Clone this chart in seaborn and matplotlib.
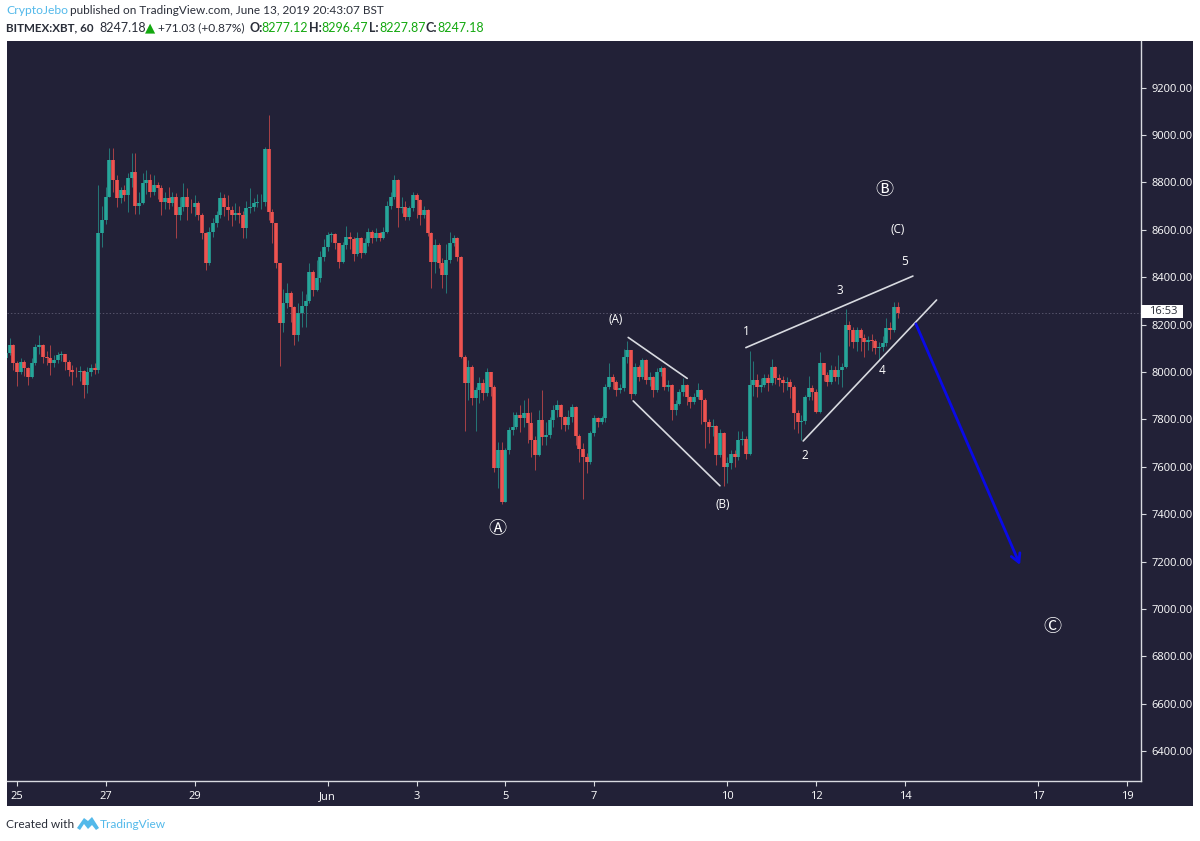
import pandas as pd
import numpy as np
import matplotlib
matplotlib.use("Agg")
import matplotlib.pyplot as plt
from matplotlib.patches import Rectangle, Polygon
import seaborn as sns

sns.set_theme(style="dark")
plt.rcParams['font.family'] = ['Open Sans', 'DejaVu Sans']

BG = '#222137'
UP = '#26a69a'
DOWN = '#ef5350'
INK = '#d8dae0'
W, H = 1200, 841

# 2 hour bars, hours counted from May 25 00:00, first bar at -6
first_hour = -6
first_open = 8060
closes = [
    8079, 8114, 8036, 8001, 8043, 8015, 7980, 8036, 8107, 8114, 8065, 8058,
    8036, 8050, 8072, 8075, 8043, 8008, 8001, 7998, 8003, 7945, 8001, 8015,
    8008, 8585, 8641, 8740, 8895, 8810, 8733, 8768, 8745, 8817, 8845, 8700,
    8712, 8796, 8810, 8761, 8789, 8775, 8719, 8733, 8712, 8740, 8663, 8698,
    8740, 8698, 8695, 8712, 8663, 8585, 8458, 8590, 8627, 8663, 8733, 8698,
    8684, 8663, 8670, 8663, 8606, 8691, 8698, 8712, 8716, 8719, 8940, 8677,
    8627, 8458, 8205, 8290, 8332, 8276, 8156, 8248, 8280, 8300, 8423, 8346,
    8395, 8487, 8529, 8578, 8582, 8545, 8466, 8536, 8571, 8560, 8500, 8564,
    8501, 8543, 8592, 8564, 8585, 8564, 8592, 8700, 8740, 8810, 8691, 8698,
    8656, 8691, 8747, 8726, 8663, 8684, 8585, 8466, 8536, 8458, 8409, 8473,
    8543, 8564, 8487, 8065, 7952, 8022, 7889, 7924, 7952, 7910, 8001, 7938,
    7593, 7671, 7452, 7671, 7755, 7769, 7818, 7804, 7825, 7783, 7712, 7649,
    7797, 7727, 7734, 7797, 7839, 7860, 7811, 7776, 7811, 7853, 7730, 7677,
    7642, 7620, 7741, 7804, 7790, 7804, 7938, 7980, 7959, 7924, 7931, 8064,
    8092, 7909, 8022, 7980, 8050, 7966, 7980, 7924, 8001, 8015, 7938, 7945,
    7839, 7867, 7916, 7945, 7895, 7874, 7895, 7924, 7881, 7790, 7769, 7772,
    7649, 7741, 7600, 7614, 7656, 7642, 7712, 7719, 7656, 7945, 7966, 7938,
    7945, 7973, 7952, 8022, 7973, 7966, 7952, 7959, 7938, 7825, 7790, 7794,
    7895, 7931, 7917, 7832, 8036, 7987, 7959, 8008, 7980, 8008, 8022, 8198,
    8177, 8128, 8177, 8142, 8128, 8135, 8131, 8100, 8104, 8121, 8184, 8177, 8275, 8247,
]
highs = [
    8100, 8142, 8120, 8045, 8060, 8050, 8020, 8060, 8120, 8156, 8120, 8090,
    8114, 8070, 8085, 8090, 8075, 8050, 8030, 8020, 8025, 8010, 8020, 8035,
    8040, 8789, 8700, 8780, 8944, 8944, 8830, 8780, 8790, 8840, 8923, 8923,
    8760, 8838, 8853, 8835, 8830, 8800, 8790, 8760, 8780, 8760, 8755, 8740,
    8799, 8775, 8730, 8747, 8720, 8670, 8590, 8610, 8650, 8680, 8761, 8750,
    8745, 8700, 8715, 8700, 8680, 8720, 8775, 8735, 8750, 8750, 8950, 9085,
    8690, 8627, 8458, 8350, 8374, 8340, 8280, 8290, 8340, 8330, 8459, 8430,
    8473, 8510, 8560, 8590, 8590, 8585, 8545, 8550, 8617, 8590, 8570, 8590,
    8570, 8565, 8606, 8600, 8606, 8590, 8610, 8720, 8760, 8831, 8815, 8740,
    8720, 8700, 8761, 8755, 8730, 8700, 8690, 8590, 8560, 8545, 8480, 8540,
    8592, 8580, 8570, 8490, 8070, 8050, 8030, 7935, 7980, 7970, 8015, 8000,
    7945, 7706, 7706, 7680, 7770, 7830, 7830, 7860, 7880, 7891, 7830, 7730,
    7840, 7926, 7790, 7810, 7860, 7880, 7865, 7815, 7840, 7865, 7855, 7740,
    7700, 7660, 7750, 7820, 7810, 7815, 7950, 8036, 7990, 7965, 7950, 8099,
    8132, 8095, 8040, 8030, 8060, 8055, 8000, 7985, 8015, 8025, 8020, 7965,
    7950, 7880, 7930, 7973, 7950, 7900, 7910, 7952, 7930, 7890, 7800, 7800,
    7775, 7761, 7745, 7640, 7670, 7670, 7750, 7750, 7730, 8090, 8045, 7990,
    7975, 7990, 7990, 8057, 8025, 7990, 7985, 7980, 7970, 7945, 7840, 7820,
    7905, 7985, 7945, 7930, 8085, 8040, 8000, 8030, 8025, 8071, 8040, 8268,
    8215, 8190, 8190, 8185, 8160, 8150, 8160, 8140, 8125, 8150, 8226, 8210, 8296, 8296,
]
lows = [
    8040, 8070, 8010, 7941, 7990, 7985, 7945, 7975, 8030, 8075, 8040, 8030,
    7987, 8020, 8040, 8045, 8010, 7985, 7945, 7980, 7960, 7892, 7910, 7985,
    7990, 7995, 8529, 8625, 8740, 8760, 8698, 8715, 8720, 8677, 8780, 8665,
    8665, 8710, 8750, 8740, 8745, 8730, 8663, 8690, 8690, 8700, 8567, 8641,
    8680, 8641, 8670, 8660, 8640, 8560, 8430, 8451, 8570, 8610, 8650, 8660,
    8640, 8616, 8640, 8630, 8564, 8564, 8670, 8680, 8695, 8690, 8700, 8640,
    8546, 8440, 8027, 8170, 8270, 8210, 8114, 8130, 8191, 8191, 8290, 8320,
    8340, 8380, 8470, 8510, 8550, 8520, 8440, 8460, 8520, 8520, 8470, 8490,
    8480, 8500, 8530, 8545, 8555, 8555, 8560, 8585, 8690, 8730, 8613, 8670,
    8640, 8640, 8680, 8650, 8620, 8650, 8575, 8353, 8416, 8440, 8353, 8332,
    8460, 8530, 8470, 8060, 7752, 7880, 7860, 7752, 7870, 7880, 7900, 7900,
    7580, 7509, 7445, 7450, 7655, 7735, 7760, 7745, 7770, 7700, 7640, 7586,
    7645, 7690, 7690, 7720, 7770, 7810, 7760, 7750, 7760, 7790, 7690, 7620,
    7466, 7572, 7610, 7730, 7770, 7780, 7790, 7930, 7930, 7900, 7910, 7920,
    8040, 7888, 7905, 7960, 7970, 7950, 7940, 7895, 7915, 7985, 7925, 7920,
    7797, 7820, 7860, 7900, 7860, 7850, 7865, 7885, 7780, 7680, 7700, 7730,
    7607, 7640, 7518, 7530, 7590, 7600, 7630, 7690, 7635, 7650, 7900, 7895,
    7915, 7935, 7920, 7945, 7950, 7940, 7915, 7925, 7890, 7760, 7741, 7715,
    7780, 7880, 7880, 7825, 7825, 7960, 7940, 7950, 7960, 7950, 7938, 8015,
    8110, 8100, 8090, 8090, 8064, 8095, 8090, 8075, 8057, 8090, 8110, 8140, 8170, 8227,
]
last_price = 8247.18

tick_days = [0, 2, 4, 7, 9, 11, 13, 16, 18, 20, 23, 25]
tick_names = ['25', '27', '29', 'Jun', '3', '5', '7', '10', '12', '14', '17', '19']
price_ticks = [6400, 6600, 6800, 7000, 7200, 7400, 7600, 7800, 8000, 8200, 8400, 8600, 8800, 9000, 9200]

# white drawn lines, (hour, price) start and end
trend_lines = [
    ((330.4, 8146), (362.3, 7973)),
    ((333.1, 7878), (380.0, 7520)),
    ((394.0, 8103), (484.3, 8405)),
    ((425.0, 7709), (497.1, 8304)),
]
arrow_start = (485.9, 8203)
arrow_end = (542.2, 7186)

wave_labels = [
    ('(A)', 323.8, 8220), ('(B)', 381.5, 7440), ('(C)', 476.3, 8603),
    ('1', 394.0, 8169), ('2', 426.0, 7649), ('3', 445.0, 8346),
    ('4', 467.5, 8008), ('5', 480.0, 8465),
]
circle_labels = [('\u24b6', 259.5, 7338), ('\u24b7', 469.0, 8770), ('\u24b8', 559.5, 6925)]


def px_box(x0, y0, x1, y1):
    return [x0 / W, 1 - y1 / H, (x1 - x0) / W, (y1 - y0) / H]


def head(x, y, text, **kw):
    kw.setdefault('fontsize', 9)
    kw.setdefault('color', '#2a2e39')
    kw.setdefault('family', ['Lato', 'DejaVu Sans'])
    fig.text(x / W, 1 - y / H, text, va='center', ha='left', **kw)


fig = plt.figure(figsize=(12, 8.41), dpi=100, facecolor='white')
x0, y0, bw, bh = px_box(6.5, 41, 1193, 806)
fig.add_artist(Rectangle((x0, y0), bw, bh, transform=fig.transFigure, facecolor=BG, edgecolor='none', zorder=-5))
ax = fig.add_axes(px_box(7, 41, 1141, 781), facecolor=BG)

opens = [first_open] + closes[:-1]
bars = pd.DataFrame({'open': opens, 'high': highs, 'low': lows, 'close': closes})
bars['hour'] = first_hour + 2 * bars.index
bars['side'] = np.where(bars['close'] >= bars['open'], 'up', 'down')
bars['id'] = bars.index

wicks = bars.melt(id_vars=['id', 'hour', 'side'], value_vars=['high', 'low'], value_name='price')
bodies = bars.melt(id_vars=['id', 'hour', 'side'], value_vars=['open', 'close'], value_name='price')
palette = {'up': UP, 'down': DOWN}

sns.lineplot(data=wicks, x='hour', y='price', hue='side', units='id', estimator=None, sort=False,
             palette=palette, legend=False, lw=0.7, alpha=0.65, solid_capstyle='butt', ax=ax)
sns.lineplot(data=bodies, x='hour', y='price', hue='side', units='id', estimator=None, sort=False,
             palette=palette, legend=False, lw=2.6, solid_capstyle='butt', ax=ax)

ax.axhline(last_price, color='#55536a', lw=0.7, ls=(0, (1.5, 2)), zorder=1)

for start, end in trend_lines:
    ax.plot([start[0], end[0]], [start[1], end[1]], color=INK, lw=1.2, zorder=4)
ax.annotate('', xy=arrow_end, xytext=arrow_start, zorder=5,
            arrowprops=dict(arrowstyle='->,head_length=0.5,head_width=0.28', color='#0a0ae6', lw=2.0,
                            shrinkA=0, shrinkB=0))

for text, hx, py in wave_labels:
    ax.text(hx, py, text, color='white', fontsize=8.5, ha='center', va='center')
for text, hx, py in circle_labels:
    ax.text(hx, py, text, color='white', fontsize=13, ha='center', va='center',
            family=['Noto Sans CJK JP', 'DejaVu Sans'])

ax.set_xlim(-5.4, 607.6)
ax.set_ylim(6274, 9397)
ax.set_xticks([d * 24 for d in tick_days], tick_names)
ax.yaxis.tick_right()
ax.set_yticks(price_ticks, [f'{p}.00' for p in price_ticks])
ax.tick_params(axis='both', colors='white', labelsize=8, length=3.5, width=0.8, color=INK)
ax.tick_params(axis='x', pad=3.5, bottom=True)
ax.tick_params(axis='y', pad=4, right=True)
ax.set_xlabel('')
ax.set_ylabel('')
ax.grid(False)
for side in ['top', 'left']:
    ax.spines[side].set_visible(False)
for side in ['right', 'bottom']:
    ax.spines[side].set_color(INK)
    ax.spines[side].set_linewidth(1.0)

# countdown tag on the price scale
bx, by, bw2, bh2 = px_box(1141, 305, 1183, 318)
fig.add_artist(Rectangle((bx, by), bw2, bh2, transform=fig.transFigure, facecolor='white', edgecolor='none', zorder=6))
fig.text(1149 / W, 1 - 311.5 / H, '16:53', color='#2a2e39', fontsize=8, va='center', ha='left', zorder=7)

# header
head(6, 11, 'CryptoJebo', color='#53b9ea', fontsize=8.7)
head(70, 11, 'published on TradingView.com, June 13, 2019 20:43:07 BST', fontsize=8.5)
head(6, 28, 'BITMEX:XBT, 60', fontweight='bold', fontsize=8.4)
head(99, 28, '8247.18')
head(145, 28, '\u25b2', color='#13a80f', fontsize=9.5, family='DejaVu Sans')
head(158, 28, '+71.03 (+0.87%)', fontsize=8.6)
for name, nx, value, vx in [('O:', 249, '8277.12', 261), ('H:', 309, '8296.47', 321),
                            ('L:', 369, '8227.87', 379), ('C:', 426, '8247.18', 437)]:
    head(nx, 28, name, fontweight='bold')
    head(vx, 28, value, color='#13a80f')

# footer
head(6, 824, 'Created with', fontsize=8.6)
logo = [(77, 828), (84, 818), (88, 821), (92, 817), (99, 828), (96, 830), (92, 825), (88, 829), (84, 824), (80, 830)]
fig.add_artist(Polygon([(a / W, 1 - b / H) for a, b in logo], closed=True, transform=fig.transFigure,
                       facecolor='#53b9ea', edgecolor='none'))
head(100, 824, 'TradingView', color='#53b9ea', fontsize=8.6)

fig.savefig('out.png', dpi=100, facecolor='white')
